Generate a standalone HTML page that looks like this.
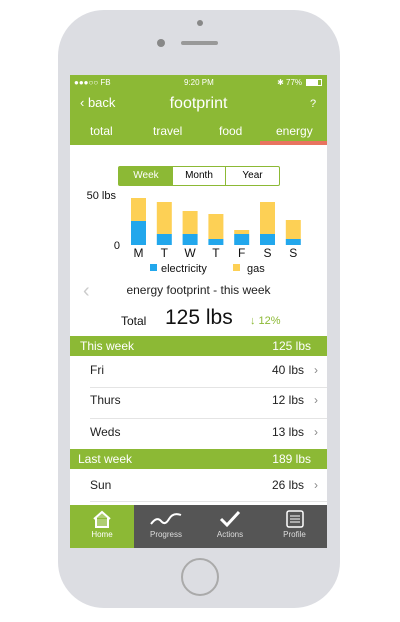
<!DOCTYPE html>
<html><head><meta charset="utf-8"><style>
*{margin:0;padding:0;box-sizing:border-box}
body{width:400px;height:622px;background:#fff;font-family:"Liberation Sans",sans-serif;position:relative;overflow:hidden}
.abs{position:absolute}
.g{background:#8cb935}
.w{color:#fff}
.row{position:absolute;left:70px;width:257px;font-size:12px;color:#222}
</style></head><body>
<div class="abs" style="left:58px;top:10px;width:282px;height:598px;border-radius:46px;background:#dcdde2"></div>
<div class="abs" style="left:197px;top:20px;width:6px;height:6px;border-radius:3px;background:#888"></div>
<div class="abs" style="left:157px;top:39px;width:8px;height:8px;border-radius:4px;background:#888"></div>
<div class="abs" style="left:181px;top:41px;width:37px;height:4px;border-radius:2px;background:#999"></div>
<div class="abs" style="left:181px;top:558px;width:38px;height:38px;border-radius:19px;border:2px solid #aaa"></div>

<div class="abs" style="left:70px;top:75px;width:257px;height:473px;background:#fff;overflow:hidden">
 <div class="abs g" style="left:0;top:0;width:257px;height:70px"></div>
 <div class="abs w" style="left:4px;top:3px;font-size:8px;width:250px">●●●○○ FB<span style="position:absolute;left:110px">9:20 PM</span><span style="position:absolute;right:22px">✱ 77%</span><span style="position:absolute;right:2px;top:1px;width:16px;height:7px;border:1px solid #fff"><span style="display:block;width:11px;height:5px;background:#fff"></span></span></div>
 <div class="abs w" style="left:10px;top:20px;font-size:13px">&#x2039;<span style="font-size:13px"> back</span></div>
 <div class="abs w" style="left:0;width:257px;text-align:center;top:20px;font-size:16px">footprint</div>
 <div class="abs w" style="left:240px;top:23px;font-size:11px">?</div>
 <div class="abs w" style="left:20px;top:49px;font-size:12px">total</div>
 <div class="abs w" style="left:83px;top:49px;font-size:12px">travel</div>
 <div class="abs w" style="left:149px;top:49px;font-size:12px">food</div>
 <div class="abs w" style="left:206px;top:49px;font-size:12px">energy</div>
 <div class="abs" style="left:190px;top:66px;width:67px;height:4px;background:#e8735f"></div>

 <div class="abs" style="left:48px;top:91px;width:162px;height:20px;border:1px solid #8cb935;border-radius:2px;font-size:10px;display:flex">
  <div class="g w" style="width:54px;text-align:center;line-height:18px">Week</div>
  <div style="width:53px;text-align:center;line-height:18px;border-right:1px solid #8cb935">Month</div>
  <div style="flex:1;text-align:center;line-height:18px">Year</div>
 </div>
 <svg class="abs" id="chart" style="left:0;top:105px" width="257" height="100"></svg>
 <div class="abs" style="left:13px;top:205px;font-size:20px;color:#ccc">&#x2039;</div>
 <div class="abs" style="left:0;width:257px;text-align:center;top:208px;font-size:12px;color:#222">energy footprint - this week</div>
 <div class="abs" style="left:51px;top:239px;font-size:12px;color:#111">Total</div>
 <div class="abs" style="left:95px;top:231px;font-size:21px;color:#111">125 lbs</div>
 <div class="abs" style="left:180px;top:240px;font-size:11px;color:#8cb935">↓ 12%</div>

 <div class="abs g w" style="left:0;top:261px;width:257px;height:20px;font-size:12px;line-height:20px;padding:0 16px 0 10px">This week<span style="float:right">125 lbs</span></div>
 <div class="row" style="left:20px;top:288px;width:228px">Fri<span style="float:right">40 lbs &nbsp;&nbsp;<span style="color:#888">›</span></span></div>
 <div class="abs" style="left:20px;top:312px;width:237px;height:1px;background:#e4e4e4"></div>
 <div class="row" style="left:20px;top:318px;width:228px">Thurs<span style="float:right">12 lbs &nbsp;&nbsp;<span style="color:#888">›</span></span></div>
 <div class="abs" style="left:20px;top:343px;width:237px;height:1px;background:#e4e4e4"></div>
 <div class="row" style="left:20px;top:350px;width:228px">Weds<span style="float:right">13 lbs &nbsp;&nbsp;<span style="color:#888">›</span></span></div>
 <div class="abs g w" style="left:0;top:374px;width:257px;height:20px;font-size:12px;line-height:20px;padding:0 16px 0 8px">Last week<span style="float:right">189 lbs</span></div>
 <div class="row" style="left:20px;top:403px;width:228px">Sun<span style="float:right">26 lbs &nbsp;&nbsp;<span style="color:#888">›</span></span></div>
 <div class="abs" style="left:20px;top:426px;width:237px;height:1px;background:#e4e4e4"></div>

 <div class="abs" style="left:0;top:430px;width:257px;height:43px;background:#555"></div>
 <div class="abs g" style="left:0;top:430px;width:64px;height:43px;color:#fff;font-size:8px;text-align:center">
  <svg width="20" height="18" style="margin-top:5px"><path d="M2 9 L10 2 L18 9 M4 8 V17 H16 V8" stroke="#fff" stroke-width="2" fill="#fff" fill-opacity=".3"/></svg><div>Home</div></div>
 <div class="abs" style="left:64px;top:430px;width:64px;height:43px;color:#ddd;font-size:8px;text-align:center">
  <svg width="34" height="18" style="margin-top:5px"><path d="M2 14 Q8 6 12 11 T20 9 T32 5" stroke="#fff" stroke-width="2" fill="none"/></svg><div>Progress</div></div>
 <div class="abs" style="left:128px;top:430px;width:64px;height:43px;color:#ddd;font-size:8px;text-align:center">
  <svg width="22" height="18" style="margin-top:5px"><path d="M2 9 L8 15 L20 2" stroke="#fff" stroke-width="3" fill="none"/></svg><div>Actions</div></div>
 <div class="abs" style="left:192px;top:430px;width:65px;height:43px;color:#ddd;font-size:8px;text-align:center">
  <svg width="18" height="18" style="margin-top:5px"><rect x="1" y="1" width="16" height="16" rx="2" stroke="#fff" fill="none" stroke-width="1.5"/><path d="M4 6H14M4 9H14M4 12H14" stroke="#fff"/></svg><div>Profile</div></div>
</div>

<script>
const days=["M","T","W","T","F","S","S"];
const electricity=[24,11,11,6,11,11,6];
const gas=[23,32,23,25,4,32,19];
const yTicks=[0,50];
const yTickLabels=["0","50 lbs"];
const svg=document.getElementById('chart');
const NS="http://www.w3.org/2000/svg";
const base=65, scale=1.0;
const y=v=>base-v*scale;
const x=i=>61+i*25.8;
function el(t,a,txt){const e=document.createElementNS(NS,t);for(const k in a)e.setAttribute(k,a[k]);if(txt!=null)e.textContent=txt;svg.appendChild(e);return e;}
yTicks.forEach((t,i)=>{const e=el('text',{x:i?46:50,y:y(t)+4,'text-anchor':'end','font-size':11,fill:'#111'},yTickLabels[i]);

});
days.forEach((d,i)=>{
 const r1=el('rect',{x:x(i),y:y(electricity[i]),width:15,height:electricity[i]*scale,fill:'#22a7ec'});
 
 
 const r2=el('rect',{x:x(i),y:y(electricity[i]+gas[i]),width:15,height:gas[i]*scale,fill:'#fdd055'});
 
 
 const t=el('text',{x:x(i)+7.5,y:base+12,'text-anchor':'middle','font-size':12,fill:'#111'},d);
 
 
});
const l1=el('rect',{x:80,y:base+19,width:7,height:7,fill:'#22a7ec'});


const l2=el('text',{x:91,y:base+27,'font-size':11,fill:'#111'},'electricity');


const l3=el('rect',{x:163,y:base+19,width:7,height:7,fill:'#fdd055'});


const l4=el('text',{x:177,y:base+27,'font-size':11,fill:'#111'},'gas');


</script>
</body></html>
